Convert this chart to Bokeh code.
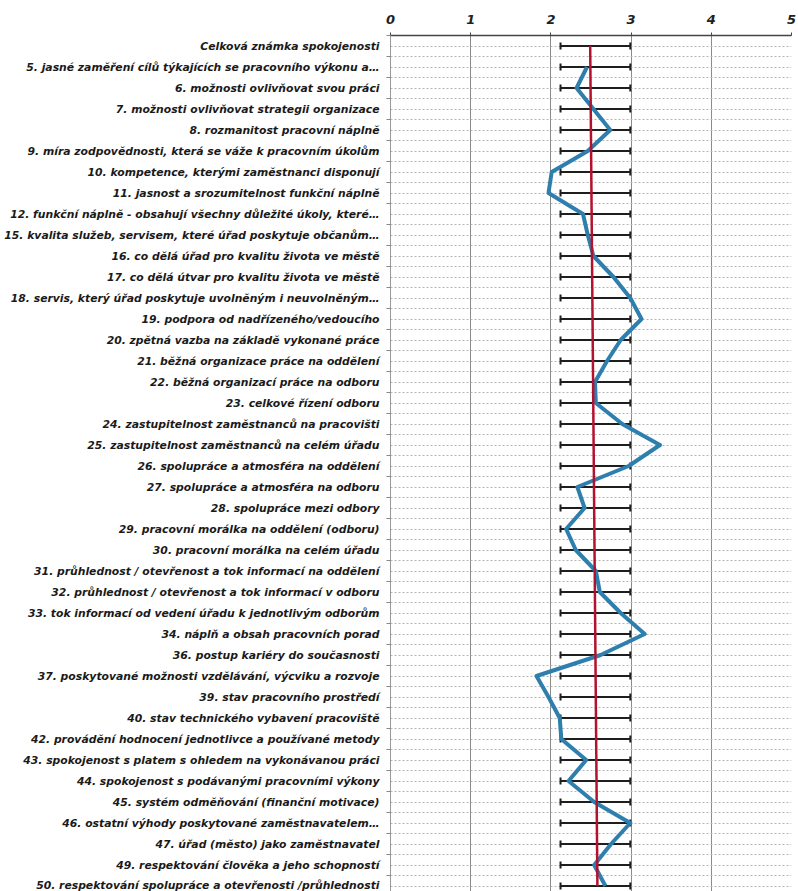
import math
from bokeh.plotting import figure
from bokeh.models import Range1d, FixedTicker, ColumnDataSource, Whisker, TeeHead
from bokeh.embed import file_html
from bokeh.resources import INLINE

categories = [
    "Celková známka spokojenosti",
    "5. jasné zaměření cílů týkajících se pracovního výkonu a…",
    "6. možnosti ovlivňovat svou práci",
    "7. možnosti ovlivňovat strategii organizace",
    "8. rozmanitost pracovní náplně",
    "9. míra zodpovědnosti, která se váže k pracovním úkolům",
    "10. kompetence, kterými zaměstnanci disponují",
    "11. jasnost a srozumitelnost funkční náplně",
    "12. funkční náplně - obsahují všechny důležité úkoly, které…",
    "15. kvalita služeb, servisem, které úřad poskytuje občanům…",
    "16. co dělá úřad pro kvalitu života ve městě",
    "17. co dělá útvar pro kvalitu života ve městě",
    "18. servis, který úřad poskytuje uvolněným i neuvolněným…",
    "19. podpora od nadřízeného/vedoucího",
    "20. zpětná vazba na základě vykonané práce",
    "21. běžná organizace práce na oddělení",
    "22. běžná organizací práce na odboru",
    "23. celkové řízení odboru",
    "24. zastupitelnost zaměstnanců na pracovišti",
    "25. zastupitelnost zaměstnanců na celém úřadu",
    "26. spolupráce a atmosféra na oddělení",
    "27. spolupráce a atmosféra na odboru",
    "28. spolupráce mezi odbory",
    "29. pracovní morálka na oddělení (odboru)",
    "30. pracovní morálka na celém úřadu",
    "31. průhlednost / otevřenost a tok informací na oddělení",
    "32. průhlednost / otevřenost a tok informací v odboru",
    "33. tok informací od vedení úřadu k jednotlivým odborům",
    "34. náplň a obsah pracovních porad",
    "36. postup kariéry do současnosti",
    "37. poskytované možnosti vzdělávání, výcviku a rozvoje",
    "39. stav pracovního prostředí",
    "40. stav technického vybavení pracoviště",
    "42. provádění hodnocení jednotlivce a používané metody",
    "43. spokojenost s platem s ohledem na vykonávanou práci",
    "44. spokojenost s podávanými pracovními výkony",
    "45. systém odměňování (finanční motivace)",
    "46. ostatní výhody poskytované zaměstnavatelem…",
    "47. úřad (město) jako zaměstnavatel",
    "49. respektování člověka a jeho schopností",
    "50. respektování spolupráce a otevřenosti /průhlednosti",
]

scores = [None, 2.45, 2.32, 2.53, 2.74, 2.46, 2.01, 1.97, 2.40, 2.46,
          2.53, 2.78, 2.99, 3.13, 2.87, 2.70, 2.55, 2.56, 2.89, 3.36,
          2.97, 2.33, 2.42, 2.19, 2.31, 2.56, 2.61, 2.87, 3.17, 2.62,
          1.82, 1.97, 2.11, 2.13, 2.44, 2.22, 2.54, 2.99, 2.75, 2.54, 2.68]

whisker_low = [2.12, 2.12, 2.12, 2.12, 2.12, 2.12, 2.12, 2.12, 2.12, 2.12,
               2.12, 2.12, 2.12, 2.12, 2.12, 2.12, 2.12, 2.12, 2.12, 2.12,
               2.12, 2.12, 2.12, 2.12, 2.12, 2.12, 2.12, 2.12, 2.12, 2.12,
               2.12, 2.12, 2.12, 2.12, 2.12, 2.12, 2.12, 2.12, 2.12, 2.12, 2.12]
whisker_high = [2.99, 2.99, 2.99, 2.99, 2.99, 2.99, 2.99, 2.99, 2.99, 2.99,
                2.99, 2.99, 2.99, 2.99, 2.99, 2.99, 2.99, 2.99, 2.99, 2.99,
                2.99, 2.99, 2.99, 2.99, 2.99, 2.99, 2.99, 2.99, 2.99, 2.99,
                2.99, 2.99, 2.99, 2.99, 2.99, 2.99, 2.99, 2.99, 2.99, 2.99, 2.99]

mean_line_values = [2.49, 2.58]
mean_line_rows = [0, 40]

x_ticks = [0, 1, 2, 3, 4, 5]

rows = list(range(len(categories)))
ROW_PX = 21
FRAME_H = 856
top = -0.5
bottom = top + FRAME_H / ROW_PX

p = figure(
    width=798, height=891,
    frame_width=401, frame_height=FRAME_H,
    min_border_left=390, min_border_right=7, min_border_top=35, min_border_bottom=0,
    x_range=Range1d(0, 5), y_range=Range1d(bottom, top),
    x_axis_location="above",
    output_backend="svg", toolbar_location=None,
)
p.outline_line_color = None
p.background_fill_color = "white"
p.border_fill_color = "white"

# x axis (top)
xa = p.xaxis[0]
xa.ticker = FixedTicker(ticks=x_ticks)
xa.major_label_text_font = "DejaVu Sans"
xa.major_label_text_font_style = "bold italic"
xa.major_label_text_font_size = "13px"
xa.major_label_text_color = "#222222"
xa.axis_line_color = "#444444"
xa.axis_line_width = 1.5
xa.major_tick_line_color = "#444444"
xa.major_tick_out = 3
xa.major_tick_in = 0
xa.minor_tick_line_color = None
xa.major_label_standoff = 9

# y axis (categories)
ya = p.yaxis[0]
ya.ticker = FixedTicker(ticks=rows, minor_ticks=[r - 0.5 for r in rows] + [rows[-1] + 0.5])
ya.major_label_overrides = {r: c for r, c in zip(rows, categories)}
ya.major_label_text_font = "DejaVu Sans"
ya.major_label_text_font_style = "bold italic"
ya.major_label_text_font_size = "10.8px"
ya.major_label_text_color = "#1a1a1a"
ya.major_tick_line_color = None
ya.major_tick_out = 0
ya.major_tick_in = 0
ya.minor_tick_line_color = "#888888"
ya.minor_tick_out = 4
ya.minor_tick_in = 0
ya.axis_line_color = "#999999"
ya.major_label_standoff = 7

# grids
p.xgrid.grid_line_color = "#8a8a8a"
p.xgrid.grid_line_width = 1
p.ygrid.grid_line_color = "#b5b5b5"
p.ygrid.grid_line_dash = "2 2"
p.ygrid.grid_line_width = 1
p.ygrid.minor_grid_line_color = "#b5b5b5"
p.ygrid.minor_grid_line_dash = "2 2"
p.ygrid.minor_grid_line_width = 1

# whiskers
wsrc = ColumnDataSource(dict(y=rows, lo=whisker_low, hi=whisker_high))
w = Whisker(base="y", lower="lo", upper="hi", dimension="width", source=wsrc,
            line_color="#1e1e1e", line_width=2,
            lower_head=TeeHead(size=7, line_color="#1e1e1e", line_width=2),
            upper_head=TeeHead(size=7, line_color="#1e1e1e", line_width=2))
p.add_layout(w)

# blue score line
sx = [math.nan if v is None else v for v in scores]
p.line(x=sx, y=rows, line_color="#2f7fae", line_width=4, line_join="round")

# red mean line
p.line(x=mean_line_values, y=mean_line_rows, line_color="#b3122e", line_width=2.5)

open("out.html", "w").write(file_html(p, INLINE))
